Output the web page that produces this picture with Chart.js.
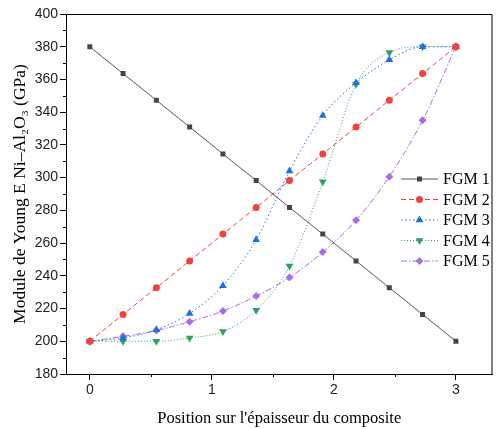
<!DOCTYPE html>
<html>
<head>
<meta charset="utf-8">
<script src="https://cdn.jsdelivr.net/npm/chart.js@4.4.1/dist/chart.umd.min.js"></script>
<style>
  html, body { margin: 0; padding: 0; background: #fff; }
  #wrap { width: 497px; height: 429px; }
</style>
</head>
<body>
<div id="wrap"><canvas id="fgmChart"></canvas></div>
<script>
// Positions dans l'épaisseur (12 points entre 0 et 3)
const positions = [0, 0.2727, 0.5455, 0.8182, 1.0909, 1.3636, 1.6364, 1.9091, 2.1818, 2.4545, 2.7273, 3];

// Module de Young (GPa) pour chaque gradation
const fgm1 = [380, 363.6, 347.3, 330.9, 314.5, 298.2, 281.8, 265.5, 249.1, 232.7, 216.4, 200];
const fgm2 = [200, 216.4, 232.7, 249.1, 265.5, 281.8, 298.2, 314.5, 330.9, 347.3, 363.6, 380];
const fgm3 = [200, 202, 207, 217, 234, 262, 304, 338, 358, 372, 380, 380];
const fgm4 = [200, 200, 200, 202, 206, 219, 246, 297.5, 357, 376.5, 380, 380];
const fgm5 = [200, 203, 206.6, 212, 218.5, 227.6, 239, 254.5, 274, 300.6, 335, 380];

const seriesNames = ['FGM 1', 'FGM 2', 'FGM 3', 'FGM 4', 'FGM 5'];
const yTicks = [180, 200, 220, 240, 260, 280, 300, 320, 340, 360, 380, 400];
const xTicks = [0, 1, 2, 3];

const styles = [
  { color: '#555555', marker: '#444444', dash: [], point: 'rect', rot: 0, r: 3.5 },
  { color: '#f0413c', marker: '#f0413c', dash: [5, 3], point: 'circle', rot: 0, r: 3.5 },
  { color: '#1f6fe0', marker: '#1f6fe0', dash: [1.5, 2.5], point: 'triangle', rot: 0, r: 4.5 },
  { color: '#2ca25f', marker: '#2ca25f', dash: [1, 2], point: 'triangle', rot: 180, r: 4.5 },
  { color: '#a56ee6', marker: '#a56ee6', dash: [6, 2, 1.5, 2], point: 'rectRot', rot: 0, r: 4 }
];

const allValues = [fgm1, fgm2, fgm3, fgm4, fgm5];

const datasets = allValues.map((vals, k) => ({
  label: seriesNames[k],
  data: positions.map((x, i) => ({ x: x, y: vals[i] })),
  borderColor: styles[k].color,
  borderWidth: 1,
  borderDash: styles[k].dash,
  backgroundColor: styles[k].marker,
  pointBackgroundColor: styles[k].marker,
  pointBorderColor: styles[k].marker,
  pointStyle: styles[k].point,
  pointRotation: styles[k].rot,
  pointRadius: styles[k].r,
  pointBorderWidth: 0,
  cubicInterpolationMode: k >= 2 ? 'monotone' : 'default',
  tension: 0
}));

// Petits traits secondaires, cadre haut/droite et légende dans le graphe
const decorPlugin = {
  id: 'decor',
  afterDraw(chart) {
    const ctx = chart.ctx;
    const a = chart.chartArea;
    const xs = chart.scales.x, ys = chart.scales.y;
    ctx.save();
    ctx.strokeStyle = '#000';
    ctx.lineWidth = 1;
    ctx.beginPath();
    ctx.moveTo(a.left, a.top + 0.5);
    ctx.lineTo(a.right - 0.5, a.top + 0.5);
    ctx.lineTo(a.right - 0.5, a.bottom);
    ctx.stroke();

    ctx.beginPath();
    for (let v = 190; v < 400; v += 20) {
      const py = Math.round(ys.getPixelForValue(v)) + 0.5;
      ctx.moveTo(a.left - 3, py);
      ctx.lineTo(a.left, py);
    }
    for (let v = 0.5; v < 3.3; v += 1) {
      const px = Math.round(xs.getPixelForValue(v)) + 0.5;
      ctx.moveTo(px, a.bottom);
      ctx.lineTo(px, a.bottom + 3);
    }
    ctx.stroke();

    // légende
    const lx0 = 401, lx1 = 438, tx = 443;
    const rowY = [179, 199.5, 220, 240.5, 261];
    ctx.font = '16px "Liberation Serif", "Times New Roman", serif';
    ctx.textBaseline = 'middle';
    ctx.fillStyle = '#000';
    seriesNames.forEach((name, k) => {
      const s = styles[k];
      ctx.save();
      ctx.strokeStyle = s.color;
      ctx.setLineDash(s.dash);
      ctx.beginPath();
      ctx.moveTo(lx0, rowY[k]);
      ctx.lineTo(lx1, rowY[k]);
      ctx.stroke();
      ctx.restore();
      ctx.fillStyle = s.marker;
      ctx.strokeStyle = s.marker;
      Chart.helpers.drawPoint(ctx, {
        pointStyle: s.point, rotation: s.rot, radius: s.r, borderWidth: 0
      }, (lx0 + lx1) / 2, rowY[k]);
      ctx.fillStyle = '#000';
      ctx.fillText(name, tx, rowY[k] + 1);
    });
    ctx.restore();
  }
};

const ctx = document.getElementById('fgmChart').getContext('2d');
const chart = new Chart(ctx, {
  type: 'line',
  data: { datasets: datasets },
  options: {
    responsive: true,
    maintainAspectRatio: false,
    animation: false,
    layout: { padding: { top: 14, right: 1, left: 0, bottom: 0 } },
    plugins: {
      legend: { display: false },
      tooltip: { enabled: false }
    },
    scales: {
      x: {
        type: 'linear',
        min: -0.195,
        max: 3.3,
        afterBuildTicks: (scale) => { scale.ticks = xTicks.map(v => ({ value: v })); },
        afterFit: (scale) => { scale.height = 55; },
        border: { display: true, color: '#000', width: 1 },
        grid: { display: true, drawOnChartArea: false, drawTicks: true, tickLength: 6, color: '#000' },
        ticks: {
          color: '#222',
          font: { family: '"Liberation Sans", Arial, sans-serif', size: 14 },
          padding: 2,
          maxRotation: 0
        },
        title: {
          display: true,
          text: "Position sur l'épaisseur du composite",
          color: '#000',
          font: { family: '"Liberation Serif", "Times New Roman", serif', size: 16.5 },
          padding: { top: 4, bottom: 0 }
        }
      },
      y: {
        type: 'linear',
        min: 180,
        max: 400,
        afterBuildTicks: (scale) => { scale.ticks = yTicks.map(v => ({ value: v })); },
        afterFit: (scale) => { scale.width = 66; },
        border: { display: true, color: '#000', width: 1 },
        grid: { display: true, drawOnChartArea: false, drawTicks: true, tickLength: 6, color: '#000' },
        ticks: {
          color: '#222',
          font: { family: '"Liberation Sans", Arial, sans-serif', size: 14 },
          padding: 2
        },
        title: {
          display: true,
          text: 'Module de Young E Ni–Al₂O₃ (GPa)',
          color: '#000',
          font: { family: '"Liberation Serif", "Times New Roman", serif', size: 17.5 },
          padding: { top: 10, bottom: 0 }
        }
      }
    }
  },
  plugins: [decorPlugin]
});
</script>
</body>
</html>
